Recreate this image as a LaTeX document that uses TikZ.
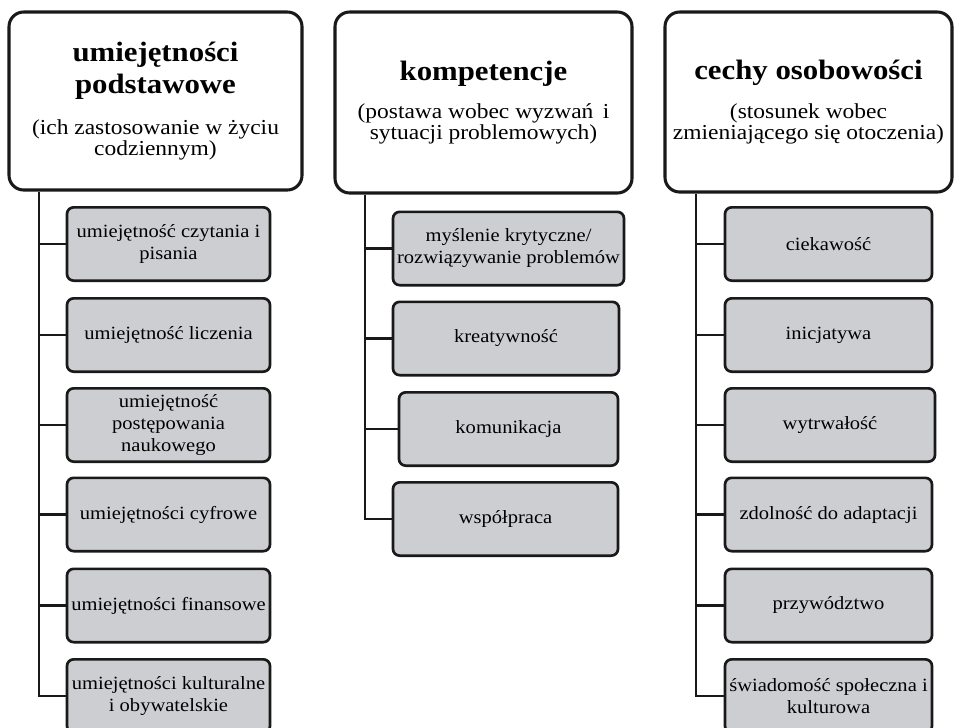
\documentclass[tikz,border=0pt]{standalone}
\usepackage{fontspec}
\setmainfont{Liberation Serif}[FakeStretch=1.1]
\definecolor{boxgray}{RGB}{205,206,210}
\newcommand{\headfnt}{\fontsize{21}{24}\selectfont}
\newcommand{\titlefnt}{\fontsize{21}{24}\selectfont\bfseries}
\newcommand{\subfnt}{\fontsize{16}{16}\selectfont\mdseries}
\newcommand{\childfnt}{\fontsize{14}{16.5}\selectfont}
\begin{document}
\begin{tikzpicture}[x=0.75pt,y=-0.75pt,
  headbox/.style={draw=black!90, line width=2.3pt, rounded corners=11pt, fill=white, align=center, inner sep=0pt, font=\headfnt},
  childbox/.style={draw=black!90, line width=2pt, rounded corners=5pt, fill=boxgray, align=center, inner sep=0pt, font=\childfnt, minimum height=55pt},
  link/.style={draw=black!90, line width=2pt}]
\useasboundingbox (0,0) rectangle (954,728);
\clip (0,0) rectangle (954,728);
\fill[white] (0,0) rectangle (954,728);

% trunk coordinates
\coordinate (t1) at (39,0);
\coordinate (t2) at (365,0);
\coordinate (t3) at (696,0);

% headers
\node[headbox, minimum width=219.75pt, minimum height=133.5pt] (h1) at (155.5,101)
  {\titlefnt umiejętności\\\titlefnt podstawowe\\[7pt]\subfnt (ich zastosowanie w życiu\\[-8.25pt]\subfnt codziennym)};
\node[headbox, minimum width=222.75pt, minimum height=135.75pt] (h2) at (483.5,102.5)
  {\titlefnt kompetencje\\[4.5pt]\subfnt (postawa wobec wyzwań\, i\\[-8.25pt]\subfnt sytuacji problemowych)};
\node[headbox, minimum width=215.25pt, minimum height=135pt] (h3) at (808.5,102)
  {\titlefnt cechy osobowości\\[5.5pt]\subfnt (stosunek wobec\\[-8.25pt]\subfnt zmieniającego się otoczenia)};

% column 1 children
\node[childbox, minimum width=152.25pt] (a1) at (168.5,244) {umiejętność czytania i\\pisania};
\node[childbox, minimum width=152.25pt] (a2) at (168.5,335) {umiejętność liczenia};
\node[childbox, minimum width=152.25pt] (a3) at (168.5,425) {umiejętność\\postępowania\\naukowego};
\node[childbox, minimum width=152.25pt] (a4) at (168.5,514.5) {umiejętności cyfrowe};
\node[childbox, minimum width=152.25pt] (a5) at (168.5,605.5) {umiejętności finansowe};
\node[childbox, minimum width=152.25pt] (a6) at (168.5,696) {umiejętności kulturalne\\i obywatelskie};

% column 2 children
\node[childbox, minimum width=173.25pt] (b1) at (508.5,248.5) {myślenie krytyczne/\\rozwiązywanie problemów};
\node[childbox, minimum width=169.5pt] (b2) at (506,338.5) {kreatywność};
\node[childbox, minimum width=164.25pt] (b3) at (508.5,429) {komunikacja};
\node[childbox, minimum width=168.75pt] (b4) at (505.5,519) {współpraca};

% column 3 children
\node[childbox, minimum width=155.25pt] (c1) at (828.5,244) {ciekawość};
\node[childbox, minimum width=155.25pt] (c2) at (828.5,335) {inicjatywa};
\node[childbox, minimum width=157.5pt] (c3) at (830,425) {wytrwałość};
\node[childbox, minimum width=155.25pt] (c4) at (828.5,514.5) {zdolność do adaptacji};
\node[childbox, minimum width=155.25pt] (c5) at (828.5,605.5) {przywództwo};
\node[childbox, minimum width=155.25pt] (c6) at (828.5,696) {świadomość społeczna i\\kulturowa};

% connectors
\draw[link] (t1 |- h1.south) -- (t1 |- a6) -- (a6.west);
\foreach \n in {a1,a2,a3,a4,a5} \draw[link] (t1 |- \n) -- (\n.west);
\draw[link] (t2 |- h2.south) -- (t2 |- b4) -- (b4.west);
\foreach \n in {b1,b2,b3} \draw[link] (t2 |- \n) -- (\n.west);
\draw[link] (t3 |- h3.south) -- (t3 |- c6) -- (c6.west);
\foreach \n in {c1,c2,c3,c4,c5} \draw[link] (t3 |- \n) -- (\n.west);
\end{tikzpicture}
\end{document}
